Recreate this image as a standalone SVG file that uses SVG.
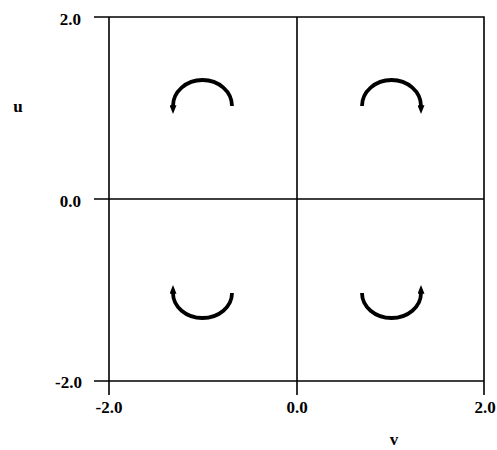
<svg xmlns="http://www.w3.org/2000/svg" width="497" height="450" viewBox="0 0 497 450">
<style>
.ax{stroke:#000;stroke-width:1.6;fill:none}
.arc{stroke:#000;stroke-width:3.8;fill:none;marker-end:url(#ah)}
.lb{font-family:"Liberation Serif","Times New Roman",serif;font-weight:bold;font-size:17px;fill:#000}
</style>
<defs>
<marker id="ah" viewBox="0 0 10 8" refX="1" refY="4" markerWidth="9" markerHeight="7" markerUnits="userSpaceOnUse" orient="auto">
<path d="M0,0 L10,4 L0,8 z" fill="#000"/>
</marker>
</defs>
<rect width="497" height="450" fill="#fff"/>
<g id="axes">
<path class="ax" d="M109,17 H484 V395 M109,17 V395 M94,381 H484 M94,17 H109 M94,199 H484 M297,17 V395"/>
</g>
<g id="labels">
<text class="lb" x="81" y="25" text-anchor="end">2.0</text>
<text class="lb" x="81" y="207" text-anchor="end">0.0</text>
<text class="lb" x="82" y="388" text-anchor="end">-2.0</text>
<text class="lb" x="109" y="413" text-anchor="middle">-2.0</text>
<text class="lb" x="297" y="413" text-anchor="middle">0.0</text>
<text class="lb" x="485" y="413" text-anchor="middle">2.0</text>
<text class="lb" x="18" y="112" text-anchor="middle">u</text>
<text class="lb" x="394" y="445" text-anchor="middle">v</text>
</g>
<g id="connectors">
<path id="arc-tl" class="arc" d="M232,106 A29.5,26 0 0 0 173,106"/>
<path id="arc-tr" class="arc" d="M362,106 A29.5,26 0 0 1 421,106"/>
<path id="arc-bl" class="arc" d="M232,293 A29.5,25 0 0 1 173,293"/>
<path id="arc-br" class="arc" d="M362,293 A29.5,25 0 0 0 421,293"/>
</g>
</svg>
